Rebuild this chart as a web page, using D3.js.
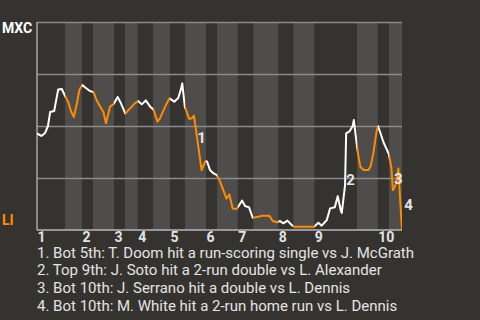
<!DOCTYPE html>
<html>
<head>
<meta charset="utf-8">
<script src="https://cdn.jsdelivr.net/npm/d3@7"></script>
<style>
  html, body { margin: 0; padding: 0; background: #353330; }
  svg { display: block; }
</style>
</head>
<body>
<svg id="chart" width="480" height="320"></svg>
<script>
// Teams: away on top of the scale, home on the bottom
const awayTeam = "MXC";
const homeTeam = "LI";

// Start of each half-inning, as percent of the game elapsed (last value = end of game)
const halfInningStarts = [
  0, 7.67, 12.33, 15.34, 21.10, 24.11, 27.59, 31.78, 36.44, 40.55,
  46.30, 49.32, 54.99, 59.26, 66.11, 70.22, 75.97, 87.67, 93.34, 96.44, 100
];
const inningLabels = ["1", "2", "3", "4", "5", "6", "7", "8", "9", "10"];

// Win probability for MXC after each play, by game progress
const progress = [
  0, 1.2, 2.2, 3.0, 3.6, 4.7, 5.8, 6.8, 7.7, 8.6,
  9.3, 10.1, 11.0, 11.6, 12.4, 13.4, 14.5, 15.5, 16.3, 17.3,
  18.2, 18.9, 20.0, 21.0, 22.1, 23.0, 24.2, 25.5, 26.8, 27.7,
  28.7, 29.8, 31.0, 31.9, 33.0, 33.7, 35.1, 36.3, 37.6, 38.7,
  39.5, 39.8, 40.5, 41.7, 42.4, 43.0, 45.1, 45.7, 46.2, 46.6,
  47.4, 48.3, 49.3, 50.1, 51.9, 52.7, 53.6, 54.7, 55.4, 56.2,
  57.0, 58.1, 59.1, 60.6, 61.8, 63.6, 64.6, 65.7, 66.6, 67.5,
  68.6, 69.8, 70.4, 75.9, 77.1, 78.0, 79.4, 80.3, 81.6, 82.4,
  83.2, 83.5, 84.4, 84.7, 85.6, 86.5, 86.8, 87.7, 88.1, 88.6,
  89.5, 90.8, 91.4, 92.1, 93.0, 93.4, 94.0, 94.9, 96.4, 97.1,
  97.5, 97.9, 98.4, 99.0, 99.5, 100
];
const mxcWinPct = [
  46.4, 45.2, 46.6, 50.0, 56.7, 57.2, 67.5, 67.8, 64.4, 61.3,
  57.2, 54.3, 61.5, 67.3, 69.7, 68.3, 66.8, 66.3, 62.5, 59.4,
  56.7, 51.3, 59.3, 60.6, 63.9, 60.9, 56.0, 58.5, 60.9, 62.0,
  60.4, 62.3, 59.3, 58.0, 52.1, 53.7, 59.3, 63.3, 61.7, 63.5,
  68.1, 70.5, 59.3, 53.4, 53.7, 55.0, 28.8, 31.3, 33.2, 32.9,
  28.8, 27.3, 26.4, 23.6, 15.1, 17.1, 10.3, 10.1, 12.0, 14.1,
  11.5, 10.9, 5.9, 6.4, 6.9, 6.9, 4.3, 3.7, 4.3, 3.2,
  4.5, 2.4, 1.6, 1.6, 3.5, 2.1, 4.8, 10.4, 10.9, 16.3,
  9.6, 8.2, 21.6, 46.5, 47.4, 50.0, 52.9, 39.9, 35.1, 30.3,
  28.8, 28.8, 30.5, 36.5, 47.1, 50.0, 47.1, 42.3, 36.5, 29.8,
  19.2, 20.2, 22.6, 29.6, 14.4, 0
];

// Key plays: marker number, marker position, and description
const eventNumbers = ["1", "2", "3", "4"];
const eventLabelX = [45.1, 85.9, 99.0, 101.8];
const eventLabelPct = [41.8, 21.6, 22.0, 9.6];
const eventTexts = [
  "1. Bot 5th: T. Doom hit a run-scoring single vs J. McGrath",
  "2. Top 9th: J. Soto hit a 2-run double vs L. Alexander",
  "3. Bot 10th: J. Serrano hit a double vs L. Dennis",
  "4. Bot 10th: M. White hit a 2-run home run vs L. Dennis"
];

const gridPct = [25, 50, 75, 100];

const colors = {
  band: "#4e4d4b",
  grid: "#8a8a8a",
  axis: "#b8b8b8",
  away: "#ffffff",
  home: "#ff8c00",
  text: "#e4e4e4"
};
const font = "Roboto, 'Noto Sans', sans-serif";

const svg = d3.select("#chart");
const margin = { left: 37, right: 78, top: 22, bottom: 90 };
const W = +svg.attr("width"), H = +svg.attr("height");

const x = d3.scaleLinear().domain([0, 100]).range([margin.left, W - margin.right]);
const y = d3.scaleLinear().domain([0, 100]).range([H - margin.bottom, margin.top]);

const halves = d3.range(halfInningStarts.length - 1).map(i => ({
  i, x0: halfInningStarts[i], x1: halfInningStarts[i + 1], bottom: i % 2 === 1
}));

// Shaded bands for bottom halves of innings
svg.append("g").selectAll("rect")
  .data(halves.filter(h => h.bottom))
  .join("rect")
  .attr("x", d => x(d.x0))
  .attr("width", d => x(d.x1) - x(d.x0))
  .attr("y", y(100))
  .attr("height", y(0) - y(100))
  .attr("fill", colors.band);

// Horizontal gridlines
const grid = svg.append("g")
  .attr("transform", `translate(${margin.left},0)`)
  .call(d3.axisLeft(y).tickValues(gridPct).tickSize(-(x(100) - x(0))).tickFormat(""));
grid.select(".domain").remove();
grid.selectAll(".tick line").attr("stroke", colors.grid).attr("stroke-width", 1.3);

// Left and bottom axis lines
svg.append("line")
  .attr("x1", x(0)).attr("x2", x(0)).attr("y1", y(100)).attr("y2", y(0))
  .attr("stroke", colors.axis).attr("stroke-width", 1.3);
svg.append("line")
  .attr("x1", x(0)).attr("x2", x(100)).attr("y1", y(0)).attr("y2", y(0))
  .attr("stroke", colors.axis).attr("stroke-width", 1.3);

// Inning labels along the bottom
const xAxis = svg.append("g")
  .attr("transform", `translate(0,${y(0)})`)
  .call(d3.axisBottom(x)
    .tickValues(halfInningStarts.filter((_, i) => i % 2 === 0 && i < 20))
    .tickFormat((_, i) => inningLabels[i])
    .tickSize(0));
xAxis.select(".domain").remove();
xAxis.selectAll("text")
  .attr("y", 12).attr("dy", null)
  .attr("text-anchor", "start")
  .attr("fill", colors.text)
  .style("font", `bold 14px ${font}`);

// Clip regions: top halves (away batting) vs bottom halves (home batting)
const defs = svg.append("defs");
["top", "bot"].forEach(key => {
  defs.append("clipPath").attr("id", "clip-" + key)
    .selectAll("rect")
    .data(halves.filter(h => (key === "bot") === h.bottom))
    .join("rect")
    .attr("x", d => x(d.x0))
    .attr("width", d => x(d.x1) - x(d.x0))
    .attr("y", 0)
    .attr("height", H);
});

const points = progress.map((p, i) => [p, mxcWinPct[i]]);
const line = d3.line().x(d => x(d[0])).y(d => y(d[1]));

[["top", colors.away], ["bot", colors.home]].forEach(([key, col]) => {
  svg.append("path")
    .datum(points)
    .attr("clip-path", `url(#clip-${key})`)
    .attr("d", line)
    .attr("fill", "none")
    .attr("stroke", col)
    .attr("stroke-width", 2)
    .attr("stroke-linejoin", "round");
});

// Key play markers
svg.append("g").selectAll("text")
  .data(eventNumbers)
  .join("text")
  .attr("x", (d, i) => x(eventLabelX[i]))
  .attr("y", (d, i) => y(eventLabelPct[i]))
  .attr("text-anchor", "middle")
  .attr("fill", colors.text)
  .style("font", `bold 15px ${font}`)
  .text(d => d);

// Team labels
svg.append("text")
  .attr("x", 2).attr("y", y(100) + 11)
  .attr("fill", "#ffffff")
  .style("font", `bold 14px ${font}`)
  .text(awayTeam);
svg.append("text")
  .attr("x", 2).attr("y", y(0) - 5)
  .attr("fill", colors.home)
  .style("font", `bold 14px ${font}`)
  .text(homeTeam);

// Key play descriptions
svg.append("g").selectAll("text")
  .data(eventTexts)
  .join("text")
  .attr("x", margin.left)
  .attr("y", (d, i) => y(0) + 27.5 + i * 17.9)
  .attr("fill", colors.text)
  .style("font", `15px ${font}`)
  .text(d => d);
</script>
</body>
</html>
